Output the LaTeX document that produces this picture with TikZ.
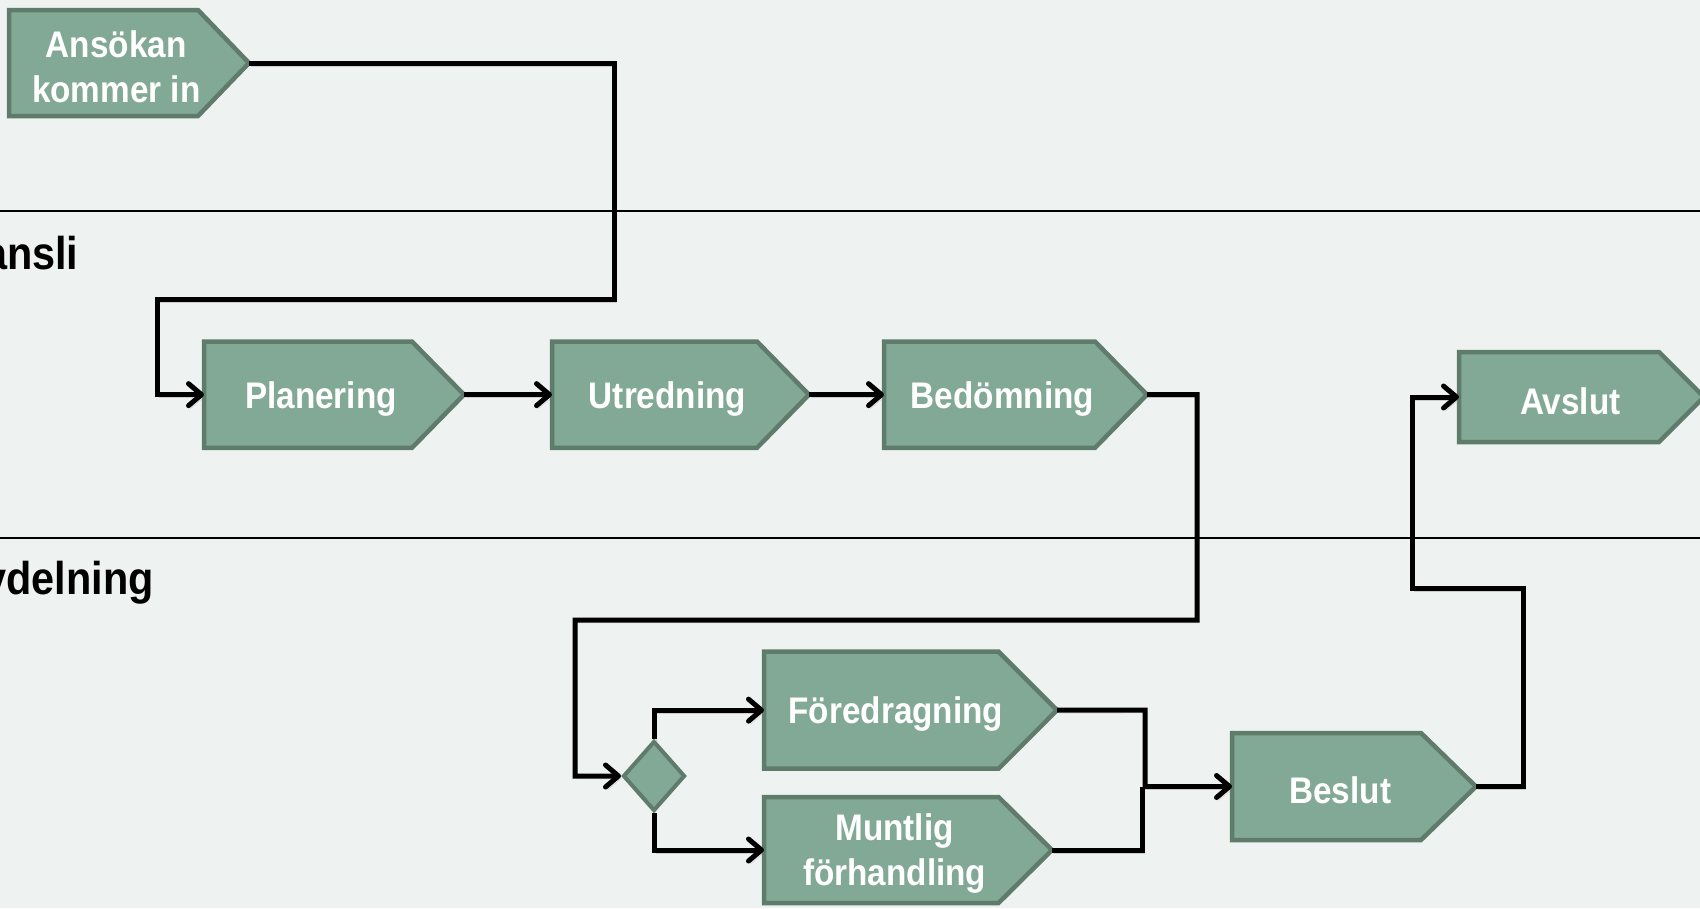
\documentclass[tikz,border=0pt]{standalone}
\usepackage{fontspec}
\setmainfont{Liberation Sans}
\newfontfamily\boxfont[FakeStretch=0.9]{Liberation Sans}
\usetikzlibrary{arrows.meta,shapes.geometric,calc}
\definecolor{bg}{HTML}{EEF2F0}
\definecolor{boxfill}{HTML}{82A996}
\definecolor{boxline}{HTML}{5F7B6C}
\tikzset{
  chev/.style={fill=boxfill, draw=boxline, line width=4.5pt, line join=miter},
  boxtext/.style={text=white, font=\boxfont\bfseries\fontsize{37}{45}\selectfont, align=center, inner sep=0pt},
  lanelabel/.style={text=black, font=\boxfont\bfseries\fontsize{46}{50}\selectfont, inner sep=0pt},
  laneline/.style={draw=black, line width=2pt},
  conn/.style={draw=black, line width=5pt, line join=miter,
    preaction={draw=black!40, opacity=0.4, transform canvas={shift={(2pt,-3pt)}}}},
  arr/.style={-{Straight Barb[length=13pt,width=22pt,round]}},
  dia/.style={shape=diamond, fill=boxfill, draw=boxline, line width=4pt, inner sep=0pt, minimum width=62pt, minimum height=70pt}
}
% name, left, top, rectright, tip, bottom, text
\newcommand\chevron[7]{%
  \draw[chev] (#2,#3) -- (#4,#3) -- (#5,{(#3+#6)/2}) -- (#4,#6) -- (#2,#6) -- cycle;
  \node[boxtext] (#1) at ({(#2+(#4+#5)/2)/2},{(#3+#6)/2+4}) {#7};
  \coordinate (#1-tip) at (#5,{(#3+#6)/2});
  \coordinate (#1-in) at (#2,{(#3+#6)/2});
}
\begin{document}
\begin{tikzpicture}[x=1pt,y=-1pt]
\useasboundingbox (0,0) rectangle (1700,908);
\clip (0,0) rectangle (1700,908);
\fill[bg] (0,0) rectangle (1700,908);
% lanes
\coordinate (l1a) at (0,211.4); \coordinate (l1b) at (1700,211.4);
\coordinate (l2a) at (0,537.8); \coordinate (l2b) at (1700,537.8);
\draw[laneline] (l1a) -- (l1b);
\draw[laneline] (l2a) -- (l2b);
\node[lanelabel, anchor=base west] (kansli) at (-46,269) {Kansli};
\node[lanelabel, anchor=base west] (avd) at (-45,594) {Avdelning};
% boxes
\chevron{ans}{9}{10}{198}{249}{116}{Ansökan\\kommer in}
\chevron{plan}{204}{341.5}{412}{464}{447.8}{Planering}
\chevron{utr}{552}{341.5}{757}{809}{447.8}{Utredning}
\chevron{bed}{884}{341.5}{1095}{1147}{447.8}{Bedömning}
\chevron{avs}{1459}{352}{1659}{1704}{442}{Avslut}
\chevron{fore}{764}{651.6}{998.5}{1057}{768.7}{Föredragning}
\chevron{munt}{764}{797}{998.5}{1052}{903}{Muntlig\\förhandling}
\chevron{besl}{1232}{733}{1421}{1476}{840}{Beslut}
\node[dia] (d) at (654,776) {};
% connectors
\draw[conn,arr] (ans-tip) -- (614,63) -- (614,299) -- (157,299) |- (plan-in);
\draw[conn,arr] (plan-tip) -- (utr-in);
\draw[conn,arr] (utr-tip) -- (bed-in);
\draw[conn,arr] (bed-tip) -- (1197,394.6) -- (1197,620) -- (575,620) |- (d.west);
\draw[conn,arr] (d.north) |- (fore-in);
\draw[conn,arr] (d.south) |- (munt-in);
\draw[conn] (munt-tip) -- (1142,850) -- (1142,786.5);
\draw[conn,arr] (fore-tip) -- (1145,710) |- (besl-in);
\draw[conn,arr] (besl-tip) -- (1523,786.5) -- (1523,588) -- (1412,588) |- (avs-in);
\end{tikzpicture}
\end{document}
